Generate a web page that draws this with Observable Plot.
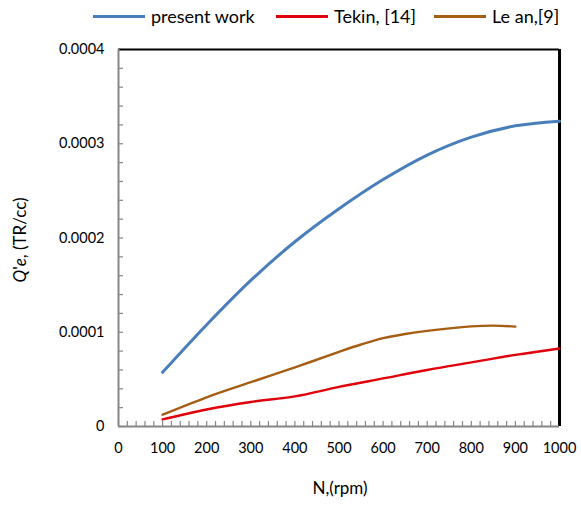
<!DOCTYPE html>
<html><head><meta charset="utf-8">
<script src="https://cdn.jsdelivr.net/npm/d3@7"></script>
<script src="https://cdn.jsdelivr.net/npm/@observablehq/plot@0.6"></script>
<style>
body{margin:0;background:#fff;font-family:Lato,"Open Sans",sans-serif;}
#legend{position:relative;height:32px;width:581px;font-size:18px;color:#000}
.item{position:absolute;top:4px;height:24px;display:flex;align-items:center;white-space:nowrap}
.sw{display:inline-block;width:52px;height:3px;margin-right:6px}
#chart svg{display:block}
</style></head><body>
<div id="legend"></div>
<div id="chart"></div>
<script>
// ---- data ----
const seriesNames = ["present work", "Tekin, [14]", "Le an,[9]"];
const seriesColors = ["#4a7ebb", "#e0000b", "#a65e14"];
const rpm = [100, 200, 300, 400, 500, 600, 700, 800, 900, 1000];
const presentWork = [0.0000575, 0.000108, 0.000155, 0.000196, 0.000231, 0.000262, 0.000288, 0.000307, 0.000319, 0.000324];
const tekin = [0.0000075, 0.000018, 0.000026, 0.000032, 0.000042, 0.000051, 0.000060, 0.000068, 0.000076, 0.0000828];
const leAnRpm = [100, 200, 300, 400, 500, 550, 600, 650, 700, 800, 850, 900];
const leAn = [0.0000125, 0.000031, 0.000047, 0.0000627, 0.0000792, 0.0000870, 0.0000937, 0.0000982, 0.0001015, 0.0001062, 0.000107, 0.000106];
const xTicks = [0, 100, 200, 300, 400, 500, 600, 700, 800, 900, 1000];
const yTicks = [0, 0.0001, 0.0002, 0.0003, 0.0004];
const xMinor = d3.range(0, 1001, 20);
const yMinor = d3.range(0, 0.00040001, 0.00002);

const rows = [
  ...rpm.map((n, i) => ({s: seriesNames[0], n, q: presentWork[i]})),
  ...rpm.map((n, i) => ({s: seriesNames[1], n, q: tekin[i]})),
  ...leAnRpm.map((n, i) => ({s: seriesNames[2], n, q: leAn[i]}))
];

// ---- legend ----
const legend = document.getElementById("legend");
const legendPos = [93, 276, 434];
seriesNames.forEach((name, i) => {
  const it = document.createElement("div");
  it.className = "item";
  it.style.left = legendPos[i] + "px";
  it.innerHTML = `<span class="sw" style="background:${seriesColors[i]}"></span><span>${name}</span>`;
  legend.appendChild(it);
});

// ---- chart ----
const chart = Plot.plot({
  width: 581,
  height: 477,
  marginTop: 17,
  marginLeft: 118,
  marginRight: 22,
  marginBottom: 83,
  style: {fontFamily: "Lato, 'Open Sans', sans-serif", fontSize: "14.5px", color: "#000"},
  x: {domain: [0, 1000]},
  y: {domain: [0, 0.0004]},
  color: {domain: seriesNames, range: seriesColors},
  marks: [
    Plot.axisX({ticks: xMinor, tickSize: -5, stroke: "#868686", strokeWidth: 1.2, text: null, label: null}),
    Plot.axisY({ticks: yMinor, tickSize: -5, stroke: "#868686", strokeWidth: 1.2, text: null, label: null}),
    Plot.axisX({ticks: xTicks, tickSize: 0, tickPadding: 16, tickFormat: d => String(d), label: null, fill: "#000"}),
    Plot.axisY({ticks: yTicks, tickSize: 0, tickPadding: 14, tickFormat: d => d === 0 ? "0" : d.toFixed(4), label: null, fill: "#000"}),
    Plot.ruleY([0.0004], {stroke: "#000", strokeWidth: 2}),
    Plot.ruleX([1000], {stroke: "#000", strokeWidth: 3}),
    Plot.ruleX([0], {stroke: "#868686", strokeWidth: 2}),
    Plot.ruleY([0], {stroke: "#868686", strokeWidth: 2}),
    Plot.line(rows.filter(d => d.s !== seriesNames[0]), {x: "n", y: "q", z: "s", stroke: "s", curve: "catmull-rom", strokeWidth: 2.4}),
    Plot.line(rows.filter(d => d.s === seriesNames[0]), {x: "n", y: "q", z: "s", stroke: "s", curve: "catmull-rom", strokeWidth: 3})
  ]
});
document.getElementById("chart").appendChild(chart);

const svg = d3.select(chart);
// axis titles
svg.append("text")
  .attr("x", 340).attr("y", 462)
  .attr("text-anchor", "middle")
  .attr("font-size", 17).attr("fill", "#000")
  .text("N,(rpm)");
const yt = svg.append("text")
  .attr("transform", "translate(26,208) rotate(-90)")
  .attr("text-anchor", "middle")
  .attr("font-size", 17).attr("fill", "#000");
yt.append("tspan").attr("font-style", "italic").text("Q");
yt.append("tspan").text("'");
yt.append("tspan").attr("font-style", "italic").text("e");
yt.append("tspan").text(", (TR/cc)");
</script>
</body></html>
